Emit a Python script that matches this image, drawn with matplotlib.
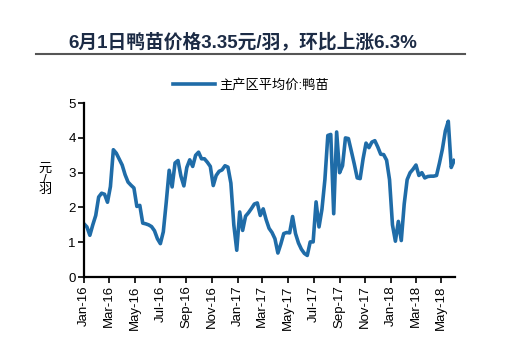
"""
鸭苗价格走势图
"""
import numpy as np
import pandas as pd
import matplotlib
matplotlib.use("Agg")
import matplotlib.pyplot as plt
import matplotlib.dates as mdates

plt.rcParams["font.family"] = ["Liberation Sans", "Noto Sans CJK SC", "DejaVu Sans"]

# 周度数据，2016-01-01 起每 7 天一个点
start_date = "2016-01-01"
price = [
    1.53, 1.44, 1.20, 1.50, 1.77, 2.30, 2.41, 2.38, 2.15, 2.60,
    3.66, 3.56, 3.39, 3.22, 2.94, 2.73, 2.64, 2.56, 2.03, 2.06,
    1.55, 1.53, 1.50, 1.45, 1.33, 1.10, 0.96, 1.30, 2.15, 3.07,
    2.59, 3.28, 3.35, 2.90, 2.62, 3.15, 3.37, 3.18, 3.50, 3.59,
    3.40, 3.40, 3.30, 3.18, 2.63, 2.92, 3.04, 3.08, 3.20, 3.16,
    2.70, 1.50, 0.77, 1.87, 1.34, 1.75, 1.85, 1.97, 2.10, 2.13,
    1.77, 1.96, 1.65, 1.40, 1.28, 1.10, 0.69, 0.95, 1.25, 1.28,
    1.27, 1.74, 1.25, 0.98, 0.80, 0.68, 0.62, 1.01, 1.01, 2.16,
    1.44, 1.95, 2.80, 4.07, 4.10, 1.82, 4.17, 3.00, 3.20, 4.00,
    3.98, 3.62, 3.25, 2.85, 2.83, 3.40, 3.85, 3.72, 3.88, 3.92,
    3.74, 3.53, 3.52, 3.36, 2.80, 1.50, 1.03, 1.60, 1.05, 2.10,
    2.80, 3.00, 3.10, 3.22, 2.92, 3.00, 2.85, 2.89, 2.90, 2.90,
    2.92, 3.28, 3.68, 4.20, 4.48, 3.15, 3.35,
]
series_name = "主产区平均价:鸭苗"
title_text = "6月1日鸭苗价格3.35元/羽，环比上涨6.3%"
y_unit = "元\n/\n羽"

dates = pd.date_range(start_date, periods=len(price), freq="7D")

fig = plt.figure(figsize=(5.2, 3.52), dpi=100)
ax = fig.add_axes([0.1615, 0.213, 0.7135, 0.494])

line_color = "#1f6ca8"
ax.plot(dates, price, color=line_color, linewidth=2.6, label=series_name,
        solid_joinstyle="round")

ax.set_ylim(0, 5)
ax.set_yticks(range(0, 6))
ax.set_xlim(pd.Timestamp("2016-01-01"), pd.Timestamp("2018-06-03"))
ax.xaxis.set_major_locator(mdates.MonthLocator(bymonth=[1, 3, 5, 7, 9, 11]))
ax.xaxis.set_major_formatter(mdates.DateFormatter("%b-%y"))
for lbl in ax.get_xticklabels():
    lbl.set_rotation(90)

for side in ["top", "right"]:
    ax.spines[side].set_visible(False)
for side in ["left", "bottom"]:
    ax.spines[side].set_linewidth(1.6)
    ax.spines[side].set_color("black")
ax.tick_params(axis="both", direction="out", length=4, width=1.2,
               labelsize=9.5, colors="black", pad=2)

# 图例放在图上方
fig.legend(loc="center left", bbox_to_anchor=(0.31, 0.758), frameon=False,
           fontsize=9.5, handlelength=3.2, handletextpad=0.3)

# 标题及下划线
fig.text(0.467, 0.88, title_text, ha="center", va="center", fontsize=13.5,
         fontweight="bold", color="#1c2b45")
fig.add_artist(plt.Line2D([0.069, 0.894], [0.847, 0.847], color="#555555",
                          linewidth=1.5, transform=fig.transFigure))

# 纵轴单位
fig.text(0.087, 0.49, y_unit, ha="center", va="center", fontsize=9.5,
         linespacing=0.85)

fig.savefig("out.png", dpi=100)
